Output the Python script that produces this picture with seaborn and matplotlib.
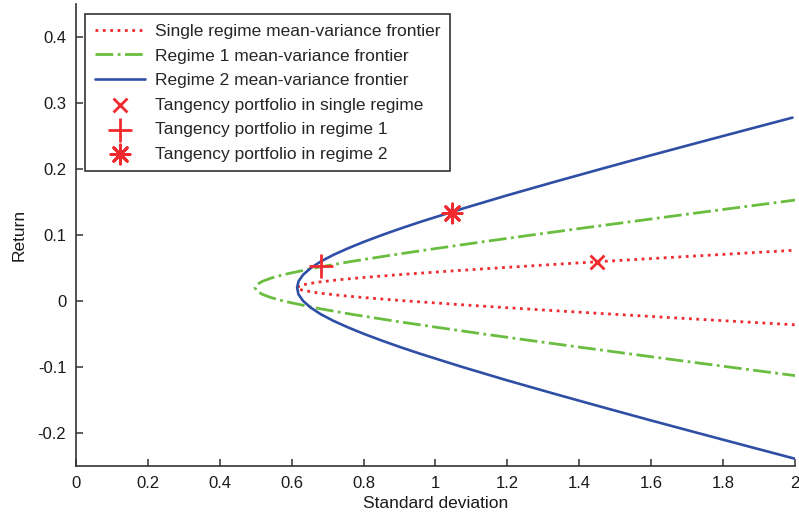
import matplotlib
matplotlib.use("Agg")
import matplotlib.pyplot as plt
import seaborn as sns

# ---- data ----
single_ret = [-0.036, -0.0295, -0.025, -0.0195, -0.015, -0.0095, -0.005, 0.0005, 0.005,
              0.0085, 0.0125, 0.0165, 0.0205, 0.0245, 0.0285, 0.0325, 0.036, 0.0405,
              0.046, 0.0505, 0.056, 0.0605, 0.066, 0.0705, 0.077]
single_std = [1.999, 1.792, 1.651, 1.480, 1.344, 1.182, 1.056, 0.911, 0.806,
              0.735, 0.671, 0.629, 0.614, 0.629, 0.671, 0.735, 0.806, 0.911,
              1.056, 1.182, 1.344, 1.480, 1.651, 1.792, 1.999]

reg1_ret = [-0.114, -0.10, -0.09, -0.07, -0.06, -0.05, -0.04, -0.03, -0.02, -0.01,
            0.0, 0.005, 0.01, 0.015, 0.02, 0.025, 0.03, 0.035, 0.04, 0.05, 0.06,
            0.07, 0.08, 0.09, 0.10, 0.11, 0.13, 0.14, 0.154]
reg1_std = [2.014, 1.817, 1.677, 1.402, 1.267, 1.134, 1.006, 0.882, 0.766, 0.662,
            0.577, 0.544, 0.519, 0.503, 0.498, 0.503, 0.519, 0.544, 0.577, 0.662, 0.766,
            0.882, 1.006, 1.134, 1.267, 1.402, 1.677, 1.817, 2.014]

reg2_ret = [-0.24, -0.22, -0.20, -0.18, -0.16, -0.14, -0.12, -0.10, -0.08, -0.07,
            -0.06, -0.05, -0.04, -0.03, -0.02, -0.01, 0.0, 0.01, 0.02, 0.03, 0.04,
            0.05, 0.06, 0.07, 0.08, 0.09, 0.10, 0.11, 0.12, 0.14, 0.16, 0.18, 0.20,
            0.22, 0.24, 0.26, 0.278]
reg2_std = [2.007, 1.868, 1.730, 1.593, 1.459, 1.327, 1.198, 1.075, 0.958, 0.903,
            0.851, 0.802, 0.757, 0.716, 0.681, 0.653, 0.632, 0.619, 0.615, 0.619, 0.632,
            0.653, 0.681, 0.716, 0.757, 0.802, 0.851, 0.903, 0.958, 1.075, 1.198, 1.327,
            1.459, 1.593, 1.730, 1.868, 1.993]

tan_single = (1.45, 0.059)
tan_reg1 = (0.681, 0.053)
tan_reg2 = (1.045, 0.133)

labels = ["Single regime mean-variance frontier",
          "Regime 1 mean-variance frontier",
          "Regime 2 mean-variance frontier",
          "Tangency portfolio in single regime",
          "Tangency portfolio in regime 1",
          "Tangency portfolio in regime 2"]

xticks = [0, 0.2, 0.4, 0.6, 0.8, 1, 1.2, 1.4, 1.6, 1.8, 2]
yticks = [-0.2, -0.1, 0, 0.1, 0.2, 0.3, 0.4]

RED = "#f02a2e"
GREEN = "#6abd3e"
BLUE = "#2f4ea6"

sns.set_style("white")
plt.rcParams["font.family"] = ["Liberation Sans", "DejaVu Sans"]
plt.rcParams["xtick.direction"] = "in"
plt.rcParams["ytick.direction"] = "in"

fig = plt.figure(figsize=(7.99, 5.18), dpi=100)
ax = fig.add_axes([0.0951, 0.1004, 0.8999, 0.8916])

sns.lineplot(x=single_std, y=single_ret, sort=False, estimator=None, ax=ax,
             color=RED, linestyle=":", linewidth=2.0, label=labels[0])
sns.lineplot(x=reg1_std, y=reg1_ret, sort=False, estimator=None, ax=ax,
             color=GREEN, linestyle="-.", linewidth=2.0, label=labels[1])
sns.lineplot(x=reg2_std, y=reg2_ret, sort=False, estimator=None, ax=ax,
             color=BLUE, linestyle="-", linewidth=1.9, label=labels[2])

sns.scatterplot(x=[tan_single[0]], y=[tan_single[1]], marker="x", s=100,
                color=RED, linewidth=2.0, ax=ax, label=labels[3], zorder=5)
sns.scatterplot(x=[tan_reg1[0]], y=[tan_reg1[1]], marker="+", s=280,
                color=RED, linewidth=2.0, ax=ax, label=labels[4], zorder=5)
sns.scatterplot(x=[tan_reg2[0]], y=[tan_reg2[1]], marker=(8, 2, 0), s=190,
                color=RED, linewidth=2.0, ax=ax, label=labels[5], zorder=5)

ax.set_xlim(0, 2)
ax.set_ylim(-0.25, 0.45)
ax.set_xticks(xticks)
ax.set_xticklabels([f"{t:g}" for t in xticks])
ax.set_yticks(yticks)
ax.set_yticklabels([f"{t:g}" for t in yticks])
ax.tick_params(axis="both", labelsize=12, length=5, width=1.1, color="#333333",
               labelcolor="#1a1a1a", bottom=True, left=True)
ax.tick_params(axis="x", pad=7)
ax.tick_params(axis="y", pad=7)
ax.set_xlabel("Standard deviation", fontsize=12.5, labelpad=4, color="#1a1a1a")
ax.set_ylabel("Return", fontsize=12.5, labelpad=8, color="#1a1a1a")

for s in ["top", "right"]:
    ax.spines[s].set_visible(False)
for s in ["left", "bottom"]:
    ax.spines[s].set_color("#333333")
    ax.spines[s].set_linewidth(1.2)

leg = ax.legend(loc="upper left", bbox_to_anchor=(0.0125, 0.978), fontsize=12.5,
                frameon=True, fancybox=False, edgecolor="black",
                handlelength=2.9, labelspacing=0.54, borderpad=0.55,
                handletextpad=0.57, borderaxespad=0)
leg.get_frame().set_linewidth(1.2)

fig.savefig("out.png", dpi=100)
